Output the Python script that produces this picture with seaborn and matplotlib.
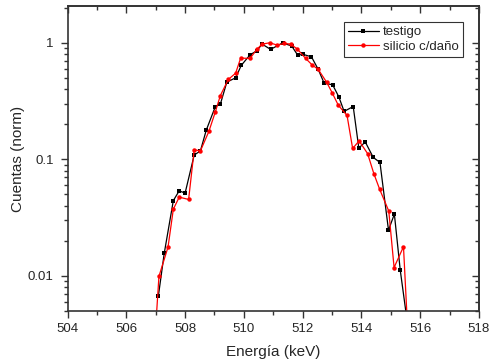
import numpy as np
import pandas as pd
import matplotlib
matplotlib.use("Agg")
import matplotlib.pyplot as plt
import matplotlib.ticker as mticker
import seaborn as sns

# Espectro de referencia (testigo)
energia_testigo = [507.09, 507.29, 507.60, 507.80, 508.00, 508.31, 508.52, 508.72,
                   509.03, 509.20, 509.42, 509.72, 509.91, 510.21, 510.44, 510.62,
                   510.91, 511.32, 511.63, 511.83, 512.02, 512.30, 512.53, 512.73,
                   513.02, 513.23, 513.41, 513.72, 513.91, 514.13, 514.40, 514.63,
                   514.92, 515.12, 515.32, 515.56]
cuentas_testigo = [0.0067, 0.0156, 0.0443, 0.0537, 0.0513, 0.109, 0.118, 0.178,
                   0.284, 0.298, 0.460, 0.501, 0.640, 0.789, 0.854, 0.975,
                   0.878, 1.0, 0.937, 0.784, 0.795, 0.758, 0.591, 0.451,
                   0.436, 0.344, 0.258, 0.284, 0.125, 0.141, 0.104, 0.094,
                   0.0247, 0.0339, 0.0112, 0.004]

# Espectro del silicio con daño
energia_dano = [507.01, 507.11, 507.42, 507.60, 507.80, 508.12, 508.31, 508.52,
                508.81, 509.03, 509.20, 509.47, 509.72, 509.89, 510.21, 510.44,
                510.62, 510.88, 511.14, 511.37, 511.59, 511.82, 512.10, 512.32,
                512.53, 512.82, 513.01, 513.21, 513.51, 513.70, 513.92, 514.21,
                514.42, 514.62, 514.93, 515.11, 515.43, 515.56]
cuentas_dano = [0.004, 0.0099, 0.0177, 0.0374, 0.0474, 0.0453, 0.121, 0.118,
                0.174, 0.256, 0.353, 0.485, 0.549, 0.739, 0.735, 0.878,
                0.975, 1.0, 0.955, 0.988, 0.975, 0.883, 0.735, 0.647,
                0.591, 0.457, 0.370, 0.292, 0.238, 0.124, 0.144, 0.112,
                0.0756, 0.0553, 0.0360, 0.0118, 0.0178, 0.004]

x_ticks = [504, 506, 508, 510, 512, 514, 516, 518]
y_ticks = [0.01, 0.1, 1]
y_tick_labels = ["0.01", "0.1", "1"]

sns.set_theme(style="ticks")
plt.rcParams["font.family"] = ["Liberation Sans", "DejaVu Sans"]

fig = plt.figure(figsize=(4.9, 3.63), dpi=100)
ax = fig.add_axes([0.1378, 0.1433, 0.8398, 0.8402])

df_t = pd.DataFrame({"E": energia_testigo, "C": cuentas_testigo})
df_d = pd.DataFrame({"E": energia_dano, "C": cuentas_dano})

sns.lineplot(data=df_t, x="E", y="C", ax=ax, color="black", lw=0.9,
             marker="s", markersize=3, markeredgewidth=0, label="testigo",
             sort=False, clip_on=True)
sns.lineplot(data=df_d, x="E", y="C", ax=ax, color="#ff0000", lw=0.9,
             marker="o", markersize=3.2, markeredgewidth=0,
             label="silicio c/daño", sort=False, clip_on=True)

ax.set_yscale("log")
ax.set_xlim(504, 518)
ax.set_ylim(0.005, 2.07)

ax.set_xticks(x_ticks)
ax.xaxis.set_minor_locator(mticker.MultipleLocator(1))
ax.set_yticks(y_ticks)
ax.set_yticklabels(y_tick_labels)
ax.yaxis.set_minor_locator(mticker.LogLocator(base=10, subs=np.arange(2, 10)))
ax.yaxis.set_minor_formatter(mticker.NullFormatter())

ax.tick_params(which="both", direction="out", top=False, right=False,
               labelsize=9.5, color="#333333", width=1)
ax.tick_params(which="major", length=5)
ax.tick_params(which="minor", length=3)
ax.tick_params(axis="y", which="major", pad=5)

# Ticks interiores en los ejes superior y derecho
ax_top = ax.secondary_xaxis("top")
ax_top.set_xticks(x_ticks)
ax_top.xaxis.set_minor_locator(mticker.MultipleLocator(1))
ax_top.tick_params(which="both", direction="in", labeltop=False, color="#333333", width=1)
ax_top.tick_params(which="major", length=5)
ax_top.tick_params(which="minor", length=3)
ax_right = ax.secondary_yaxis("right")
ax_right.set_yticks(y_ticks)
ax_right.yaxis.set_minor_locator(mticker.LogLocator(base=10, subs=np.arange(2, 10)))
ax_right.tick_params(which="both", direction="in", labelright=False, color="#333333", width=1)
ax_right.tick_params(which="major", length=5)
ax_right.tick_params(which="minor", length=3)
for a in (ax, ax_top, ax_right):
    for s in a.spines.values():
        s.set_color("#333333")
        s.set_linewidth(1.2)

ax.set_xlabel("Energía (keV)", fontsize=11, labelpad=7)
ax.set_ylabel("Cuentas (norm)", fontsize=11, labelpad=2)

leg = ax.legend(loc="upper right", bbox_to_anchor=(0.961, 0.9475), fontsize=9.5,
                frameon=True, fancybox=False, handlelength=2.4, borderpad=0.3,
                labelspacing=0.2, handletextpad=0.3, borderaxespad=0)
leg.get_frame().set_edgecolor("black")
leg.get_frame().set_linewidth(0.8)

fig.savefig("out.png", dpi=100)
